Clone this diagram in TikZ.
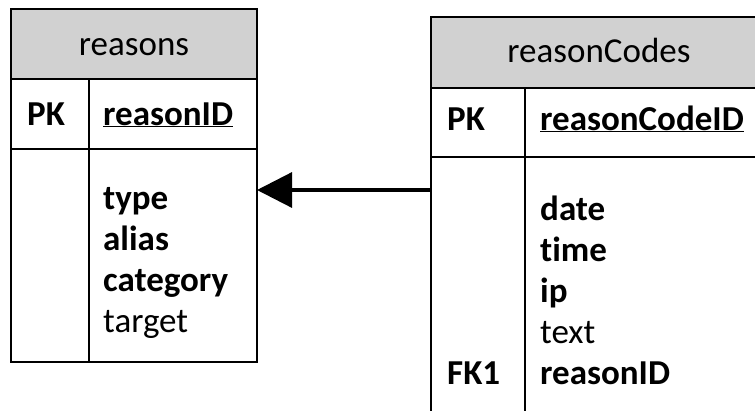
\documentclass[tikz,border=0pt]{standalone}
\usepackage{fontspec}
\setmainfont{Carlito}[Ligatures=NoCommon]
\usetikzlibrary{arrows.meta}
\begin{document}
\begin{tikzpicture}[x=1pt,y=-1pt,
  tbl/.style={line width=2.2pt},
  hdr/.style={fill=black!18},
  title/.style={anchor=base,font=\fontsize{35}{42}\selectfont,inner sep=0pt},
  key/.style={anchor=base west,font=\fontsize{35}{42}\selectfont\bfseries,inner sep=0pt},
  field/.style={anchor=base west,font=\fontsize{35}{42}\selectfont,inner sep=0pt},
  fk/.style={line width=3.2pt,-{Triangle[length=35pt,width=35pt]}}]
\useasboundingbox (0,0) rectangle (755,410);
% table: reasons
\fill[hdr] (11,9) rectangle (257,79);
\draw[tbl] (11,9) rectangle (257,362);
\draw[tbl] (11,79) -- (257,79) (11,149) -- (257,149) (89,79) -- (89,362);
\node[title] (rT) at (134,55) {reasons};
\node[key] (rPK) at (27,125) {PK};
\node[key] (rID) at (103,125) {\underline{reasonID}};
\node[key] (rType) at (103,209) {type};
\node[key] (rAlias) at (103,250) {alias};
\node[key] (rCat) at (103,291) {category};
\node[field] (rTarget) at (103,332) {target};
\coordinate (rEdge) at (257,190);
% table: reasonCodes (runs past the right and bottom edges)
\begin{scope}
\clip (0,0) rectangle (755,410);
\fill[hdr] (431,17) rectangle (767,88);
\draw[tbl] (767,420) -- (431,420) -- (431,17) -- (767,17) -- cycle;
\draw[tbl] (431,88) -- (767,88) (431,157) -- (767,157) (525,88) -- (525,420);
\end{scope}
\node[title] (cT) at (599,62) {reasonCodes};
\node[key] (cPK) at (447,130) {PK};
\node[key] (cID) at (540,130) {\underline{reasonCodeID}};
\node[key] (cDate) at (540,220) {date};
\node[key] (cTime) at (540,261) {time};
\node[key] (cIp) at (540,302) {ip};
\node[field] (cText) at (540,343) {text};
\node[key] (cFK) at (447,384) {FK1};
\node[key] (cRef) at (540,384) {reasonID};
\coordinate (cEdge) at (431,190);
% relationship
\draw[fk] (cEdge) -- (rEdge);
\end{tikzpicture}
\end{document}
